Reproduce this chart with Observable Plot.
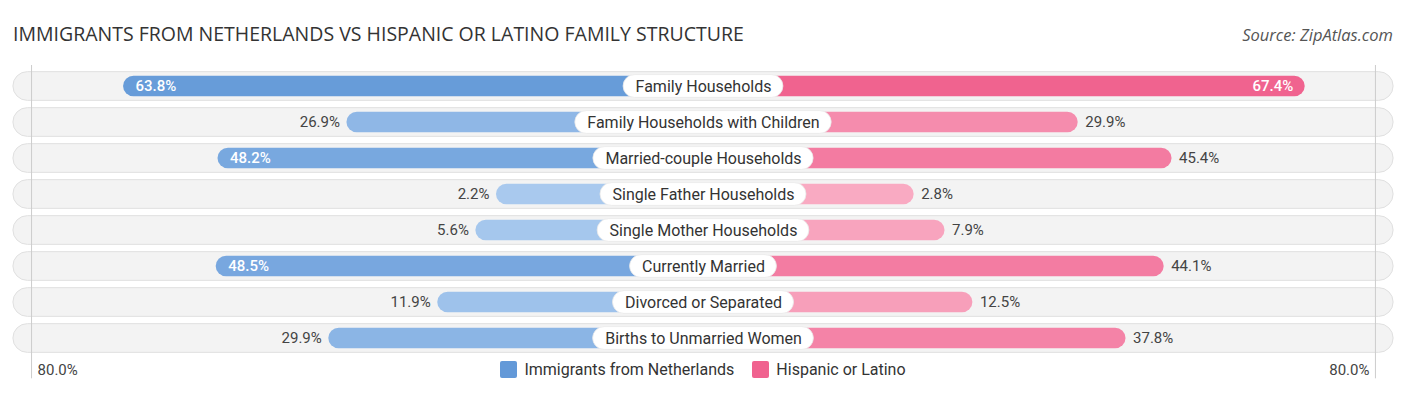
<!DOCTYPE html>
<html>
<head>
<meta charset="utf-8">
<script src="https://cdn.jsdelivr.net/npm/d3@7"></script>
<script src="https://cdn.jsdelivr.net/npm/@observablehq/plot@0.6"></script>
<style>
  html, body { margin: 0; padding: 0; background: #fff; }
  body { width: 1406px; height: 395px; position: relative; overflow: hidden; font-family: Roboto, sans-serif; }
  #title { position: absolute; left: 13px; top: 20px; font-family: "Open Sans", sans-serif; font-size: 19.5px; color: #333; white-space: nowrap; }
  #source { position: absolute; right: 13px; top: 23px; font-family: "Open Sans", sans-serif; font-style: italic; font-size: 16.5px; color: #555; white-space: nowrap; }
  #chart { position: absolute; left: 0; top: 56px; }
  #legend { position: absolute; left: 0; width: 1406px; top: 360px; display: flex; justify-content: center; gap: 18px; font-size: 16px; color: #333; }
  .item { display: flex; align-items: center; gap: 7px; }
  .sw { width: 17px; height: 17px; border-radius: 2px; display: inline-block; }
</style>
</head>
<body>
<div id="title">IMMIGRANTS FROM NETHERLANDS VS HISPANIC OR LATINO FAMILY STRUCTURE</div>
<div id="source">Source: ZipAtlas.com</div>
<div id="chart"></div>
<div id="legend"></div>
<script>
const categories = [
  "Family Households",
  "Family Households with Children",
  "Married-couple Households",
  "Single Father Households",
  "Single Mother Households",
  "Currently Married",
  "Divorced or Separated",
  "Births to Unmarried Women"
];
const netherlands = [63.8, 26.9, 48.2, 2.2, 5.6, 48.5, 11.9, 29.9];
const hispanic = [67.4, 29.9, 45.4, 2.8, 7.9, 44.1, 12.5, 37.8];
const seriesNames = ["Immigrants from Netherlands", "Hispanic or Latino"];
const tickLabel = "80.0%";

// styling
const OFF = 32;           // bar offset (data units) hidden behind the central label
const DMAX = 112;
const blueLight = "#abcbef", blueStrong = "#6399d8";
const pinkLight = "#f9adc4", pinkStrong = "#f0628f";
const blueC = d3.scaleLinear().domain([0, 68]).range([blueLight, blueStrong]).interpolate(d3.interpolateRgb).clamp(true);
const pinkC = d3.scaleLinear().domain([0, 68]).range([pinkLight, pinkStrong]).interpolate(d3.interpolateRgb).clamp(true);

const rows = categories.map((c, i) => ({cat: c, a: netherlands[i], b: hispanic[i]}));
const left = rows.map(r => ({cat: r.cat, v: r.a, side: -1}));
const right = rows.map(r => ({cat: r.cat, v: r.b, side: 1}));
const all = left.concat(right);
const inside = d => d.v >= 47;
const pos = d => d.side * (d.v + OFF);

const W = 1406, H = 325, mL = 25, mR = 25;
const xs = Plot.scale({x: {domain: [-DMAX, DMAX], range: [mL, W - mR]}});
const ctx = document.createElement("canvas").getContext("2d");
ctx.font = "16px Roboto";
const pills = categories.map(c => {
  const w = ctx.measureText(c).width;
  const half = xs.invert(xs.apply(0) + w / 2 + 12);
  return {cat: c, h: half};
});

const step = 36.29, mT = 11.0;
const mB = H - (mT + step * categories.length);

const plot = Plot.plot({
  width: W, height: H,
  marginLeft: mL, marginRight: mR, marginTop: mT, marginBottom: mB,
  x: {domain: [-DMAX, DMAX], axis: null},
  y: {domain: categories, axis: null, padding: 0},
  style: {fontFamily: "Roboto, sans-serif", fontSize: "15px", background: "transparent"},
  marks: [
    Plot.barX(categories, {y: d => d, x1: -114, x2: 114, fill: "#f3f3f3", stroke: "#e0e0e0", strokeWidth: 1, rx: 14.5, insetTop: 3.64, insetBottom: 3.64}),
    Plot.ruleX([-111, 111], {x: d => d, stroke: "#cccccc", strokeWidth: 1, insetTop: -2, insetBottom: -21}),
    Plot.barX(all, {y: "cat", x1: d => 0, x2: pos, fill: d => d.side < 0 ? blueC(d.v) : pinkC(d.v), rx: 10.5, insetTop: 7.64, insetBottom: 7.64}),
    Plot.barX(pills, {y: "cat", x1: d => -d.h, x2: d => d.h, fill: "white", stroke: "#e8e8e8", strokeWidth: 0.8, rx: 11.5, insetTop: 6.6, insetBottom: 6.6}),
    Plot.text(categories, {y: d => d, x: d => 0, text: d => d, fontSize: 16, fill: "#333", textAnchor: "middle"}),
    // value labels: inside
    Plot.text(left.filter(inside), {y: "cat", x: pos, text: d => d.v.toFixed(1) + "%", textAnchor: "start", dx: 12, fill: "white", fontSize: 15, fontWeight: 500}),
    Plot.text(right.filter(inside), {y: "cat", x: pos, text: d => d.v.toFixed(1) + "%", textAnchor: "end", dx: -12, fill: "white", fontSize: 15, fontWeight: 500}),
    // outside
    Plot.text(left.filter(d => !inside(d)), {y: "cat", x: pos, text: d => d.v.toFixed(1) + "%", textAnchor: "end", dx: -7, fill: "#444", fontSize: 15}),
    Plot.text(right.filter(d => !inside(d)), {y: "cat", x: pos, text: d => d.v.toFixed(1) + "%", textAnchor: "start", dx: 7, fill: "#444", fontSize: 15}),
    // axis end labels
    Plot.text([-111], {x: d => d, frameAnchor: "bottom", dy: 17, text: d => tickLabel, textAnchor: "start", dx: 6, fill: "#444", fontSize: 15}),
    Plot.text([111], {x: d => d, frameAnchor: "bottom", dy: 17, text: d => tickLabel, textAnchor: "end", dx: -6, fill: "#444", fontSize: 15})
  ]
});
document.getElementById("chart").appendChild(plot);

const lg = document.getElementById("legend");
[[seriesNames[0], blueStrong], [seriesNames[1], pinkStrong]].forEach(([n, c]) => {
  const it = document.createElement("div"); it.className = "item";
  const sw = document.createElement("span"); sw.className = "sw"; sw.style.background = c;
  const t = document.createElement("span"); t.textContent = n;
  it.appendChild(sw); it.appendChild(t); lg.appendChild(it);
});
</script>
</body>
</html>
